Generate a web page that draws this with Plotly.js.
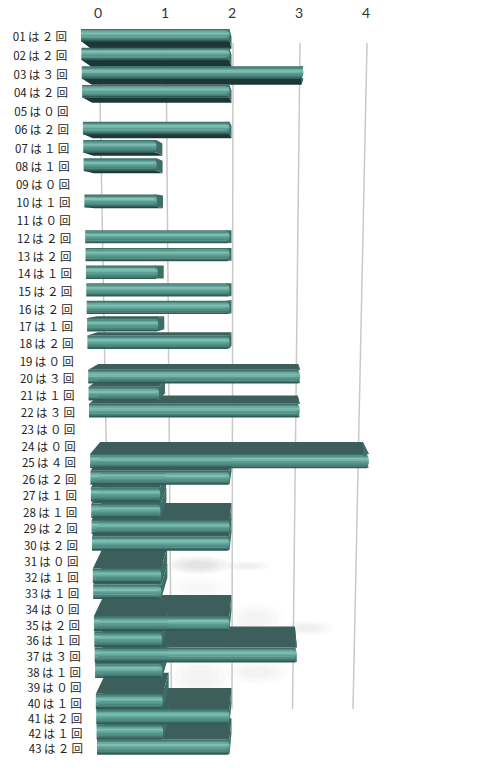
<!DOCTYPE html>
<html><head><meta charset="utf-8">
<script src="https://cdn.plot.ly/plotly-3.0.1.min.js"></script>
<style>html,body{margin:0;padding:0;background:#fff}#c{width:479px;height:773px}</style>
</head><body><div id="c"></div>
<script>
const rowIds = ["01","02","03","04","05","06","07","08","09","10","11","12","13","14","15","16","17","18","19","20","21","22","23","24","25","26","27","28","29","30","31","32","33","34","35","36","37","38","39","40","41","42","43"];
const counts = [2,2,3,2,0,2,1,1,0,1,0,2,2,1,2,2,1,2,0,3,1,3,0,0,4,2,1,1,2,2,0,1,1,0,2,1,3,1,0,1,2,1,2];
const fullDigits = ["０","１","２","３","４"];
const tickVals = [0,1,2,3,4];

// perspective of the picture, in screen units
const pxOfZero = 98, pxPerUnit = 67;
const toV = px => (px - pxOfZero) / pxPerUnit;
const rowY = i => 36 + 18.81 * i - 0.0443 * i * i;
const leftPx = i => 81 + 16 * i / 42;
const frontPx = (v, i) => leftPx(i) + v * (229.5 - leftPx(i)) / 2;
const backDx = v => 10 - 4 * v;
const barH = i => 12 + 3 * i / 42;
const depth = y => y > 300 ? Math.min(21, 0.075 * (y - 300)) : (y < 230 ? -0.04 * (230 - y) : 0);
const gridPx = (v, y) => pxOfZero + 1 + pxPerUnit * v + (y - 43) / 666 * (12 - 6.5 * v);

const traces = [];
function poly(polys, color) {
  const x = [], y = [];
  polys.forEach(p => { p.forEach(q => { x.push(toV(q[0])); y.push(q[1]); }); x.push(null); y.push(null); });
  traces.push({type:"scatter", mode:"lines", x, y, fill:"toself", fillcolor:color,
    line:{width:0,color:color}, hoverinfo:"skip", showlegend:false});
}

// grid
tickVals.forEach(v => {
  const ys = [43, 709];
  traces.push({type:"scatter", mode:"lines", x:ys.map(y => toV(gridPx(v, y))), y:ys,
    line:{color:"#c9c9c9", width:1.5}, hoverinfo:"skip", showlegend:false});
});

const bars = counts.map((v, i) => ({v, i})).filter(b => b.v > 0);
const centre = i => rowY(i) - 1;

// top and under faces
const topFaces = [], underFaces = [], capFaces = [];
bars.forEach(({v, i}) => {
  const c = centre(i), h = barH(i), t = c - h / 2, b = c + h / 2;
  const l = frontPx(0, i), r = frontPx(v, i);
  const lb = l + backDx(0), rb = r + backDx(v);
  const d = depth(c);
  if (d > 0) topFaces.push([[l, t], [r, t], [rb, t - d], [lb, t - d], [l, t]]);
  else underFaces.push([[l, b], [r, b], [rb, b - d], [lb, b - d], [l, b]]);
  capFaces.push([[r - 3, t], [r, t], [rb, t - d], [rb, b - d], [r, b], [r - 3, b], [r - 3, t]]);
});
poly(underFaces, "#1c3836");
poly(topFaces, "#3c5f5b");
poly(capFaces, "#3f6d68");

// front faces as shaded strips
const strips = ["#40716b","#4d8a81","#64a89c","#7cc0b3","#70b4a8","#5d9f94","#559589","#4e8a81","#447b73","#305c57"];
strips.forEach((col, s) => {
  const polys = [];
  bars.forEach(({v, i}) => {
    const h = barH(i), t0 = centre(i) - h / 2;
    const a = t0 + h * s / strips.length, b = t0 + h * (s + 1) / strips.length + 0.4;
    const k = (s + 0.5) / strips.length * 2 - 1;
    const r = frontPx(v, i) - 2 * k * k;
    const l = frontPx(0, i);
    polys.push([[l, a], [r, a], [r, b], [l, b], [l, a]]);
  });
  poly(polys, col);
});

// row labels
traces.push({type:"scatter", mode:"text",
  x: counts.map((v, i) => toV(leftPx(i) - 14)),
  y: counts.map((v, i) => rowY(i) + 2.5),
  text: counts.map((v, i) => rowIds[i] + "\u2009は\u2009" + fullDigits[v] + "\u2009回"),
  textposition:"middle left",
  textfont:{family:"'Noto Sans CJK JP','Noto Sans',sans-serif", size:11.5, color:"#222"},
  cliponaxis:false, hoverinfo:"skip", showlegend:false});

// faint smudges behind the bars
const blob = (x0, y0, x1, y1, o) => [0, .2, .4, .6].map(f => {
  const dx = (x1 - x0) * f / 2, dy = (y1 - y0) * f / 2;
  return {type:"circle", layer:"below", xref:"x", yref:"y",
    x0:toV(x0 + dx), x1:toV(x1 - dx), y0:y0 + dy, y1:y1 - dy,
    fillcolor:"#777", opacity:o, line:{width:0}};
});
const shapes = [].concat(
  blob(165,556,232,574,.05), blob(225,561,270,571,.03),
  blob(165,576,232,602,.015),
  blob(226,603,284,636,.018), blob(280,621,333,635,.03),
  blob(168,656,232,700,.02), blob(226,660,290,684,.02)
);

Plotly.newPlot("c", traces, {
  width:479, height:773, margin:{l:0,r:0,t:0,b:0},
  paper_bgcolor:"#fff", plot_bgcolor:"#fff", showlegend:false, shapes,
  xaxis:{range:[toV(0), toV(479)], side:"top", anchor:"free", position:0.9728, tickvals:tickVals, ticktext:tickVals.map(String),
    ticks:"", showgrid:false, zeroline:false, showline:false,
    tickfont:{family:"Lato,'Noto Sans',sans-serif", size:14, color:"#333"}},
  yaxis:{range:[773,0], visible:false}
}, {staticPlot:true});
</script></body></html>
